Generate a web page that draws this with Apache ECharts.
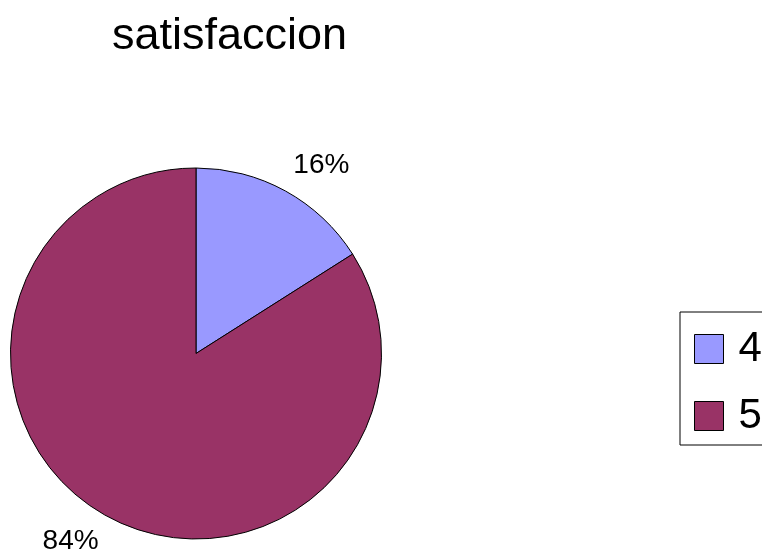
<!DOCTYPE html>
<html>
<head>
<meta charset="utf-8">
<script src="https://cdn.jsdelivr.net/npm/echarts@6/dist/echarts.min.js"></script>
<style>
html,body{margin:0;padding:0;background:#fff;}
#c{width:762px;height:556px;}
</style>
</head>
<body>
<div id="c"></div>
<script>
const titleText = 'satisfaccion';
const categories = ['4', '5'];
const values = [16, 84];
const colors = ['#9999FF', '#993366'];

const chart = echarts.init(document.getElementById('c'), null, {renderer: 'canvas'});
const font = 'Liberation Sans, Arial, sans-serif';
chart.setOption({
  animation: false,
  backgroundColor: '#ffffff',
  title: {
    text: titleText,
    left: 112,
    top: 14,
    padding: 0,
    textStyle: {fontFamily: font, fontSize: 45, fontWeight: 'normal', color: '#000', lineHeight: 45}
  },
  legend: {
    orient: 'vertical',
    left: 680,
    top: 312,
    padding: [16, 30, 8, 14],
    borderColor: '#000',
    borderWidth: 1,
    itemWidth: 29,
    itemHeight: 29,
    itemGap: 25,
    icon: 'rect',
    selectedMode: false,
    itemStyle: {borderColor: '#000', borderWidth: 1},
    textStyle: {fontFamily: font, fontSize: 42, color: '#000', padding: [0, 0, 0, 10]},
    data: categories
  },
  series: [{
    type: 'pie',
    center: [196, 353.5],
    radius: 185.5,
    startAngle: 90,
    clockwise: true,
    avoidLabelOverlap: false,
    silent: true,
    data: categories.map((n, i) => ({name: n, value: values[i], itemStyle: {color: colors[i]}})),
    itemStyle: {borderColor: '#000', borderWidth: 1},
    label: {
      show: true,
      position: 'outside',
      formatter: '{d}%',
      fontFamily: font,
      fontSize: 28,
      color: '#000',
      distanceToLabelLine: -6
    },
    labelLine: {show: false, length: 29, length2: 0},
    emphasis: {disabled: true}
  }]
});
</script>
</body>
</html>
